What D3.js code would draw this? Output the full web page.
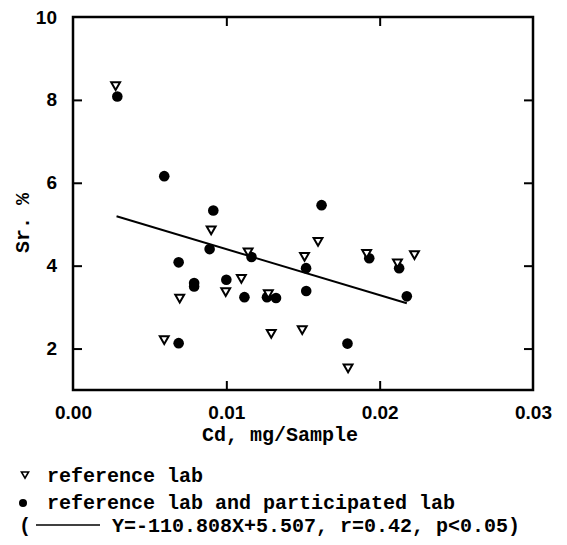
<!DOCTYPE html>
<html>
<head>
<meta charset="utf-8">
<script src="https://cdn.jsdelivr.net/npm/d3@7"></script>
<style>
  body { margin: 0; background: #fff; }
  .tick-label { font-family: "Liberation Sans", Arial, sans-serif; font-weight: bold; font-size: 19px; fill: #000; }
  .mono { font-family: "Liberation Mono", "DejaVu Sans Mono", monospace; font-weight: bold; font-size: 20px; fill: #000; }
</style>
</head>
<body>
<div id="chart"></div>
<script>
// reference lab (open triangles)
const refX = [0.00278, 0.00901, 0.01098, 0.00996, 0.00696, 0.00595, 0.01142, 0.01274, 0.01293, 0.01495, 0.0151, 0.01598, 0.01794, 0.01915, 0.02116, 0.02227];
const refY = [8.34, 4.86, 3.69, 3.37, 3.21, 2.21, 4.33, 3.32, 2.36, 2.45, 4.22, 4.58, 1.53, 4.29, 4.06, 4.26];

// reference lab and participated lab (filled circles)
const bothX = [0.00289, 0.00595, 0.00915, 0.00891, 0.00689, 0.0079, 0.0079, 0.01, 0.01118, 0.00689, 0.01164, 0.01265, 0.01324, 0.01521, 0.0152, 0.01621, 0.0179, 0.01932, 0.02127, 0.02177];
const bothY = [8.08, 6.16, 5.33, 4.40, 4.08, 3.58, 3.50, 3.66, 3.24, 2.13, 4.21, 3.24, 3.22, 3.39, 3.94, 5.46, 2.12, 4.18, 3.94, 3.26];

// regression Y = -110.808X + 5.507 over the range of the data
const fitSlope = -110.808;
const fitIntercept = 5.507;
const fitRange = [0.00284, 0.02177];

const xTicks = [0.00, 0.01, 0.02, 0.03];
const yTicks = [2, 4, 6, 8, 10];

const legendLabels = [
  "reference lab",
  "reference lab and participated lab",
  "Y=-110.808X+5.507, r=0.42, p<0.05)"
];

const width = 567, height = 545;
const margin = {top: 17, right: 34, bottom: 155, left: 73};

const svg = d3.select('#chart')
  .append('svg')
  .attr('width', width)
  .attr('height', height);

const x = d3.scaleLinear().domain([0, 0.03]).range([margin.left, width - margin.right]);
const y = d3.scaleLinear().domain([1, 10]).range([height - margin.bottom, margin.top]);

// axes with inward ticks
const tickLen = 9;
svg.append('g')
  .attr('transform', 'translate(0,' + y(1) + ')')
  .call(d3.axisBottom(x).tickValues(xTicks).tickSize(-tickLen).tickFormat(d3.format('.2f')))
  .call(g => g.select('.domain').remove())
  .call(g => g.selectAll('.tick line').attr('stroke-width', 2).filter(d => d === 0 || d === 0.03).remove())
  .call(g => g.selectAll('.tick text').attr('class', 'tick-label').attr('dy', 0).attr('y', 29));

svg.append('g')
  .attr('transform', 'translate(' + x(0) + ',0)')
  .call(d3.axisLeft(y).tickValues(yTicks).tickSize(-tickLen).tickPadding(7 + tickLen).tickFormat(d3.format('d')))
  .call(g => g.select('.domain').remove())
  .call(g => g.selectAll('.tick line').attr('stroke-width', 2).filter(d => d === 10).remove())
  .call(g => g.selectAll('.tick text').attr('class', 'tick-label'));

svg.append('g')
  .attr('transform', 'translate(' + x(0.03) + ',0)')
  .call(d3.axisRight(y).tickValues(yTicks.filter(d => d < 10)).tickSize(-tickLen).tickFormat(''))
  .call(g => g.select('.domain').remove())
  .call(g => g.selectAll('.tick line').attr('stroke-width', 2));

svg.append('g')
  .attr('transform', 'translate(0,' + y(10) + ')')
  .call(d3.axisTop(x).tickValues([0.01, 0.02]).tickSize(-tickLen).tickFormat(''))
  .call(g => g.select('.domain').remove())
  .call(g => g.selectAll('.tick line').attr('stroke-width', 2));

// frame
svg.append('rect')
  .attr('x', x(0)).attr('y', y(10))
  .attr('width', x(0.03) - x(0)).attr('height', y(1) - y(10))
  .attr('fill', 'none').attr('stroke', '#000').attr('stroke-width', 2.5);

// regression line
svg.append('path')
  .datum(fitRange)
  .attr('fill', 'none').attr('stroke', '#000').attr('stroke-width', 2)
  .attr('d', d3.line().x(d => x(d)).y(d => y(fitSlope * d + fitIntercept)));

const tri = d3.symbol().type(d3.symbolTriangle).size(34);

// filled circles
svg.append('g').selectAll('circle')
  .data(bothX.map((v, i) => [v, bothY[i]]))
  .join('circle')
  .attr('cx', d => x(d[0])).attr('cy', d => y(d[1]))
  .attr('r', 5.3).attr('fill', '#000');

// open down-triangles
svg.append('g').selectAll('path')
  .data(refX.map((v, i) => [v, refY[i]]))
  .join('path')
  .attr('d', tri)
  .attr('transform', d => 'translate(' + x(d[0]) + ',' + (y(d[1]) - 1) + ') rotate(180)')
  .attr('fill', '#fff').attr('stroke', '#000').attr('stroke-width', 2);

// axis titles
svg.append('text')
  .attr('class', 'mono')
  .attr('x', 280).attr('y', 441)
  .attr('text-anchor', 'middle')
  .text('Cd, mg/Sample');

svg.append('text')
  .attr('class', 'mono')
  .attr('transform', 'translate(29,223) rotate(-90)')
  .attr('text-anchor', 'middle')
  .text('Sr. %');

// legend
svg.append('path')
  .attr('d', d3.symbol().type(d3.symbolTriangle).size(22))
  .attr('transform', 'translate(25,474) rotate(180)')
  .attr('fill', '#fff').attr('stroke', '#000').attr('stroke-width', 1.6);

svg.append('circle')
  .attr('cx', 23).attr('cy', 503).attr('r', 4).attr('fill', '#000');

svg.append('text')
  .attr('class', 'mono')
  .attr('x', 19).attr('y', 532)
  .text('(');

svg.append('line')
  .attr('x1', 36).attr('x2', 100)
  .attr('y1', 525).attr('y2', 525)
  .attr('stroke', '#000').attr('stroke-width', 1.6);

const legendY = [482, 509, 532];
const legendX = [47, 47, 112];
svg.append('g').selectAll('text')
  .data(legendLabels)
  .join('text')
  .attr('class', 'mono')
  .attr('x', (d, i) => legendX[i])
  .attr('y', (d, i) => legendY[i])
  .text(d => d);
</script>
</body>
</html>
